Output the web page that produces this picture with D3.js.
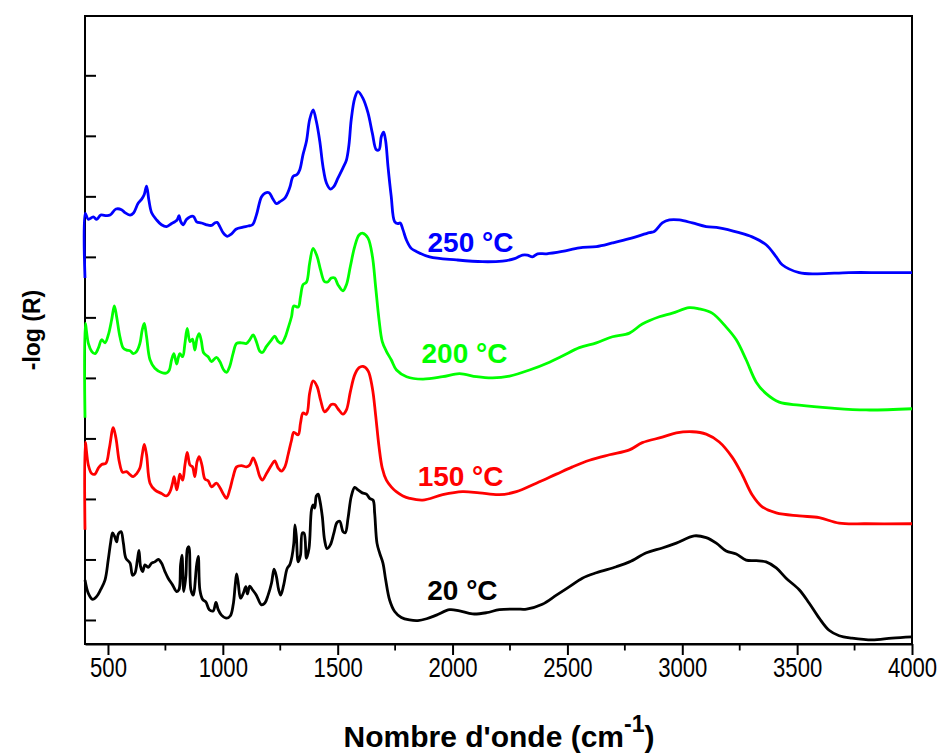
<!DOCTYPE html>
<html><head><meta charset="utf-8">
<script src="https://cdn.jsdelivr.net/npm/d3@7"></script>
<style>body{margin:0;background:#fff}</style>
</head><body>
<svg id="c" width="941" height="756"></svg>
<script>
// x tick labels
const xTicks = [500,1000,1500,2000,2500,3000,3500,4000];
const seriesNames = ["20 °C","150 °C","200 °C","250 °C"];
const seriesColors = ["#000000","#ff0000","#00ff00","#0000ff"];

// [wavenumber, -log(R)] (arbitrary offset units)
const s20 = [[400,0.66],[414.5,0.44],[433,0.34],[451,0.39],[468,0.50],[487,0.66],[501,0.99],[512,1.29],[520,1.44],[529,1.38],[538,1.29],[545,1.42],[557,1.46],[567,1.27],[578,1.02],[596,0.94],[607,0.74],[617,0.77],[628,0.99],[635,1.15],[642,0.88],[651,0.80],[661,0.91],[675,0.87],[690,0.94],[704,0.96],[719,1.00],[733,0.94],[748,0.80],[762,0.69],[781,0.58],[799,0.47],[809,0.50],[816,0.91],[822,1.07],[830,0.47],[839,0.72],[846,1.18],[852,1.21],[861,0.50],[871,0.41],[886,0.91],[893,1.05],[900,0.50],[912,0.34],[926,0.30],[941,0.17],[958,0.15],[970,0.29],[980,0.17],[994,0.08],[1016,0.03],[1033,0.07],[1045,0.25],[1054,0.58],[1060,0.76],[1067,0.61],[1077,0.36],[1088,0.43],[1100,0.55],[1107,0.43],[1117,0.56],[1129,0.50],[1146,0.41],[1168,0.25],[1183,0.28],[1197,0.41],[1212,0.61],[1223,0.84],[1233,0.72],[1243,0.50],[1252,0.41],[1265,0.58],[1280,0.85],[1291,0.91],[1301,1.05],[1309,1.27],[1314,1.57],[1320,1.38],[1328,0.96],[1338,1.07],[1346,1.44],[1354,1.43],[1364,1.02],[1375,1.18],[1386,1.82],[1393,1.90],[1400,1.85],[1407,2.05],[1415,2.08],[1422,1.98],[1433,1.71],[1443,1.32],[1454,1.18],[1468,1.24],[1483,1.43],[1497,1.61],[1509,1.63],[1523,1.46],[1533,1.44],[1545,1.68],[1559,2.04],[1574,2.19],[1588,2.15],[1607,2.10],[1625,2.08],[1639,2.01],[1654,1.98],[1661,1.76],[1671,1.27],[1683,1.10],[1697,0.94],[1709,0.66],[1726,0.33],[1748,0.14],[1777,0.04],[1813,0.00],[1849,-0.01],[1887,0.02],[1930,0.08],[1987,0.17],[2030,0.15],[2087,0.10],[2148,0.12],[2204,0.17],[2278,0.18],[2322,0.18],[2391,0.26],[2452,0.41],[2509,0.55],[2565,0.69],[2626,0.78],[2713,0.88],[2770,0.96],[2844,1.11],[2913,1.19],[2974,1.27],[3052,1.39],[3104,1.36],[3148,1.27],[3191,1.14],[3235,1.09],[3278,0.99],[3322,0.98],[3365,0.96],[3409,0.86],[3452,0.69],[3509,0.50],[3552,0.28],[3596,0.03],[3639,-0.17],[3683,-0.26],[3739,-0.30],[3826,-0.33],[3913,-0.30],[4000,-0.28]];

const s150 = [[400,1.49],[401,2.94],[414.5,2.56],[429,2.42],[443.5,2.41],[458,2.51],[472.5,2.57],[491,2.59],[506,2.84],[523,3.18],[535,3.00],[549,2.62],[564,2.44],[581,2.45],[596,2.40],[610,2.37],[625,2.42],[639,2.51],[649,2.73],[658,2.90],[668,2.73],[683,2.26],[704,2.15],[733,2.09],[755,2.05],[770,2.12],[781,2.26],[788,2.37],[799,2.15],[806,2.26],[813,2.41],[825,2.31],[835,2.56],[845,2.77],[857,2.56],[868,2.53],[878,2.37],[888,2.62],[897,2.70],[909,2.56],[922,2.33],[936,2.30],[951,2.20],[972,2.26],[987,2.19],[1004,2.07],[1016,2.01],[1030,2.15],[1045,2.37],[1060,2.53],[1081,2.55],[1103,2.53],[1117,2.56],[1132,2.68],[1146,2.56],[1161,2.37],[1172,2.31],[1190,2.42],[1212,2.56],[1226,2.63],[1241,2.51],[1255,2.46],[1270,2.53],[1284,2.73],[1299,2.97],[1309,3.10],[1328,3.06],[1338,3.25],[1349,3.42],[1364,3.40],[1378,3.75],[1393,3.95],[1410,3.86],[1425,3.64],[1443,3.44],[1458,3.49],[1472,3.56],[1487,3.56],[1501,3.49],[1523,3.40],[1538,3.47],[1555,3.77],[1574,4.05],[1593,4.17],[1610,4.19],[1632,4.12],[1651,3.83],[1665,3.39],[1680,2.86],[1694,2.51],[1712,2.31],[1733,2.20],[1755,2.12],[1784,2.05],[1813,2.01],[1870,1.98],[1957,2.07],[2043,2.12],[2117,2.10],[2204,2.07],[2278,2.12],[2365,2.26],[2452,2.41],[2522,2.53],[2596,2.64],[2683,2.73],[2770,2.81],[2826,2.93],[2913,3.02],[2974,3.09],[3044,3.11],[3104,3.07],[3161,2.94],[3217,2.69],[3261,2.40],[3304,2.07],[3348,1.87],[3409,1.77],[3509,1.72],[3596,1.69],[3683,1.60],[3800,1.59],[4000,1.59]];

const s200 = [[400,3.34],[401,4.90],[414.5,4.57],[429,4.44],[443.5,4.40],[458,4.49],[472.5,4.63],[487,4.58],[501.5,4.71],[516,4.96],[527.6,5.19],[537.7,5.01],[552,4.68],[567,4.49],[581,4.46],[596,4.45],[610,4.40],[625,4.44],[639,4.57],[649,4.79],[658,4.90],[668,4.68],[683,4.30],[704,4.16],[733,4.09],[755,4.08],[767,4.13],[777,4.30],[787,4.40],[799,4.23],[806,4.33],[813,4.40],[825,4.35],[835,4.57],[845,4.82],[857,4.60],[868,4.64],[878,4.46],[888,4.66],[897,4.73],[906,4.62],[917,4.41],[936,4.35],[951,4.27],[972,4.34],[987,4.27],[1004,4.13],[1016,4.09],[1030,4.19],[1045,4.41],[1060,4.57],[1081,4.58],[1103,4.57],[1117,4.63],[1132,4.71],[1146,4.60],[1161,4.44],[1172,4.42],[1190,4.52],[1212,4.63],[1226,4.69],[1241,4.60],[1255,4.57],[1270,4.66],[1284,4.82],[1299,5.01],[1309,5.19],[1328,5.17],[1338,5.34],[1349,5.54],[1364,5.58],[1378,5.90],[1393,6.14],[1410,6.01],[1425,5.79],[1443,5.59],[1458,5.59],[1472,5.65],[1487,5.65],[1501,5.54],[1523,5.44],[1538,5.54],[1555,5.84],[1574,6.17],[1593,6.36],[1610,6.39],[1632,6.31],[1651,6.01],[1665,5.51],[1680,4.96],[1694,4.60],[1712,4.44],[1733,4.30],[1756,4.13],[1800,4.02],[1870,3.98],[1957,4.02],[2030,4.07],[2104,4.02],[2174,4.00],[2248,4.03],[2335,4.13],[2422,4.26],[2478,4.36],[2552,4.50],[2626,4.58],[2696,4.68],[2770,4.74],[2826,4.89],[2900,5.01],[2957,5.07],[3030,5.16],[3074,5.14],[3130,5.07],[3191,4.84],[3235,4.63],[3278,4.30],[3322,3.93],[3365,3.74],[3422,3.60],[3509,3.55],[3652,3.50],[3800,3.47],[4000,3.49]];

const s250 = [[400,5.65],[401,6.72],[414.5,6.62],[436,6.66],[451,6.62],[468,6.69],[494,6.68],[509,6.69],[535,6.79],[559,6.78],[574,6.73],[596,6.69],[610,6.72],[632,6.89],[646,6.95],[658,7.03],[668,7.17],[678,6.94],[690,6.73],[712,6.61],[733,6.53],[755,6.50],[777,6.55],[791,6.58],[801,6.61],[809,6.68],[817,6.58],[828,6.53],[842,6.62],[871,6.67],[886,6.58],[907,6.56],[929,6.53],[951,6.52],[965,6.56],[975,6.57],[987,6.50],[1001,6.40],[1019,6.34],[1038,6.38],[1059,6.46],[1088,6.49],[1110,6.51],[1129,6.53],[1146,6.69],[1168,6.99],[1183,7.05],[1201,7.06],[1216,6.97],[1233,6.88],[1248,6.91],[1270,6.97],[1291,7.14],[1306,7.33],[1323,7.36],[1335,7.44],[1349,7.69],[1364,7.91],[1378,8.27],[1393,8.43],[1407,8.24],[1422,7.91],[1436,7.49],[1451,7.22],[1468,7.12],[1483,7.16],[1501,7.30],[1523,7.47],[1538,7.60],[1549,7.85],[1559,8.27],[1574,8.62],[1588,8.73],[1610,8.62],[1632,8.38],[1651,8.04],[1668,7.77],[1680,7.77],[1690,7.99],[1700,8.06],[1709,7.91],[1719,7.49],[1733,7.00],[1748,6.58],[1762,6.55],[1772,6.56],[1784,6.45],[1799,6.28],[1820,6.14],[1842,6.09],[1900,6.00],[2017,5.95],[2130,5.92],[2217,5.93],[2270,5.97],[2304,6.03],[2326,6.03],[2348,6.00],[2370,6.05],[2409,6.05],[2478,6.09],[2552,6.15],[2626,6.17],[2696,6.23],[2770,6.30],[2857,6.40],[2878,6.42],[2913,6.56],[2944,6.61],[2987,6.61],[3044,6.56],[3104,6.50],[3161,6.48],[3248,6.40],[3304,6.33],[3365,6.20],[3409,6.00],[3435,5.87],[3509,5.74],[3583,5.72],[3726,5.74],[3870,5.74],[4000,5.74]];

// label anchor positions in data space [wavenumber, value] (label centre, baseline)
const labelPos = [[2043,0.33],[2035,2.21],[2052,4.25],[2078,6.08]];

const svg = d3.select("#c");
const m = {l:85, r:912, t:16, b:644};
const x = d3.scaleLinear().domain([400,4000]).range([m.l,m.r]);
const y = d3.scaleLinear().domain([-0.397,9.98]).range([m.b,m.t]);

// frame
svg.append("rect").attr("x",m.l).attr("y",m.t).attr("width",m.r-m.l).attr("height",m.b-m.t)
  .attr("fill","none").attr("stroke","#000").attr("stroke-width",2);

// x axis
const xAxis = d3.axisBottom(x).tickValues(xTicks).tickSize(11).tickSizeOuter(0).tickFormat(d3.format("d"));
const gx = svg.append("g").attr("transform",`translate(0,${m.b})`).call(xAxis);
gx.select(".domain").attr("stroke-width",2);
gx.selectAll(".tick line").attr("stroke-width",2);
gx.selectAll("text").attr("font-family","'Liberation Sans',Arial,sans-serif")
  .attr("font-size",27).attr("fill","#000").attr("y",33).attr("dy",null)
  .attr("transform","scale(0.82,1)");
const minor = d3.range(750,4000,500);
svg.append("g").attr("transform",`translate(0,${m.b})`).selectAll("line").data(minor).join("line")
  .attr("x1",d=>x(d)).attr("x2",d=>x(d)).attr("y1",0).attr("y2",6.5).attr("stroke","#000").attr("stroke-width",1.8);

// y axis ticks (no labels), inward
const yAxis = d3.axisRight(y).tickValues(d3.range(0,10,1)).tickSize(11).tickSizeOuter(0).tickFormat("");
const gy = svg.append("g").attr("transform",`translate(${m.l},0)`).call(yAxis);
gy.select(".domain").remove();
gy.selectAll(".tick line").attr("stroke-width",2);

// curves
const line = d3.line().x(d=>x(d[0])).y(d=>y(d[1])).curve(d3.curveCatmullRom.alpha(0.5));
const allSeries = [s20,s150,s200,s250];
svg.append("g").selectAll("path").data(allSeries).join("path")
  .attr("d",line).attr("fill","none").attr("stroke",(d,i)=>seriesColors[i])
  .attr("stroke-width",2.8).attr("stroke-linejoin","round");

// series labels
svg.append("g").selectAll("text").data(seriesNames).join("text")
  .attr("x",(d,i)=>x(labelPos[i][0])).attr("y",(d,i)=>y(labelPos[i][1]))
  .attr("text-anchor","middle").attr("font-family","'Liberation Sans',Arial,sans-serif")
  .attr("font-weight","bold").attr("font-size",28).attr("fill",(d,i)=>seriesColors[i]).text(d=>d);

// axis titles
const xt = svg.append("text").attr("x",499).attr("y",747).attr("text-anchor","middle")
  .attr("font-family","'Liberation Sans',Arial,sans-serif").attr("font-weight","bold").attr("font-size",30);
xt.append("tspan").text("Nombre d'onde (cm");
xt.append("tspan").attr("dy",-15).attr("font-size",23).text("-1");
xt.append("tspan").attr("dy",15).text(")");

svg.append("text").attr("transform","translate(40,330) rotate(-90)").attr("text-anchor","middle")
  .attr("font-family","'Liberation Sans',Arial,sans-serif").attr("font-weight","bold").attr("font-size",23).text("-log (R)");
</script>
</body></html>
